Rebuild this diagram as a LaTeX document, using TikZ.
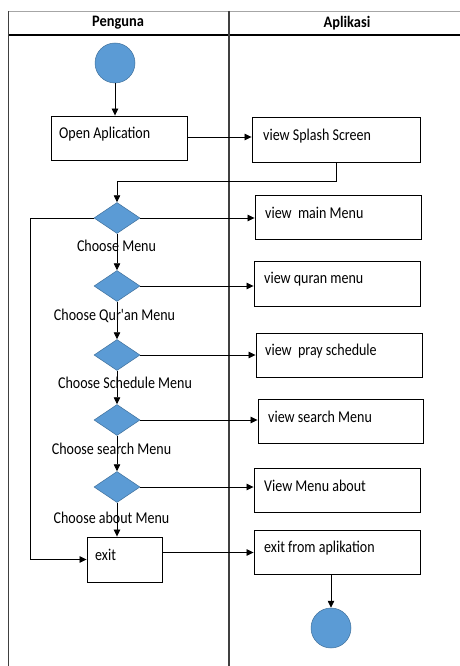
\documentclass[tikz,border=0pt]{standalone}
\usepackage{fontspec}
\setmainfont{Carlito}
\newfontfamily\narrowfont[FakeStretch=0.85]{Carlito}
\newfontfamily\headfont[FakeStretch=0.9]{Carlito}
\usetikzlibrary{shapes.geometric,arrows.meta}
\definecolor{ofblue}{HTML}{5B9BD5}
\definecolor{ofedge}{HTML}{41719C}
\definecolor{lanegray}{HTML}{404040}
\tikzset{
  act/.style={draw=black, line width=0.9pt, fill=white, inner sep=0pt},
  dec/.style={diamond, draw=ofedge, line width=0.5pt, fill=ofblue, inner sep=0pt,
              minimum width=46pt, minimum height=31pt},
  endpt/.style={circle, draw=ofedge, line width=0.5pt, fill=ofblue, inner sep=0pt,
              minimum size=40pt},
  txt/.style={anchor=west, inner sep=0pt, font=\narrowfont\fontsize{16.5}{18}\selectfont},
  lbl/.style={inner sep=0pt, font=\narrowfont\fontsize{16.5}{18}\selectfont},
  head/.style={inner sep=0pt, font=\headfont\fontsize{16}{18}\selectfont\bfseries},
  flow/.style={line width=0.8pt, -{Triangle[length=7pt,width=6.5pt]}},
}
\begin{document}
\begin{tikzpicture}[x=1pt, y=-1pt]
\useasboundingbox (0,0) rectangle (460,666);

% swimlane frame
\draw[gray!70, line width=0.6pt] (8,11) -- (460,11);
\draw[black, line width=2pt] (8,35) -- (460,35);
\draw[lanegray, line width=1pt] (8,11) -- (8,666);
\draw[lanegray, line width=1.5pt] (229,11) -- (229,666);
\node[head] (hUser) at (118,23) {Penguna};
\node[head] (hApp) at (347,23) {Aplikasi};

% start and end
\node[endpt] (start) at (115,63) {};
\node[endpt] (stop) at (331,628) {};

% user lane activities
\node[act, minimum width=136pt, minimum height=44pt] (open) at (119,138) {};
\node[txt] (tOpen) at (59,134) {Open Aplication};
\node[act, minimum width=75pt, minimum height=45pt] (exit) at (124.5,559.5) {};
\node[txt] (tExit) at (95,555) {exit};

% decisions
\node[dec] (d1) at (117,218) {};
\node[dec] (d2) at (117,286) {};
\node[dec] (d3) at (117,355) {};
\node[dec] (d4) at (117,420) {};
\node[dec] (d5) at (117,487) {};

% application lane activities
\node[act, minimum width=168pt, minimum height=45pt] (splash) at (336,139.5) {};
\node[txt] (tSplash) at (263,136) {view Splash Screen};
\node[act, minimum width=166pt, minimum height=44pt] (main) at (338,217) {};
\node[txt] (tMain) at (265,213) {view\ \ main Menu};
\node[act, minimum width=166pt, minimum height=45pt] (quran) at (337,283.5) {};
\node[txt] (tQuran) at (264,279) {view quran menu};
\node[act, minimum width=166pt, minimum height=44pt] (pray) at (339,355) {};
\node[txt] (tPray) at (265,351) {view\ \ pray schedule};
\node[act, minimum width=165pt, minimum height=44pt] (search) at (340.5,421) {};
\node[txt] (tSearch) at (268,417) {view search Menu};
\node[act, minimum width=166pt, minimum height=44pt] (about) at (337,490) {};
\node[txt] (tAbout) at (264,486) {View Menu about};
\node[act, minimum width=166pt, minimum height=44pt] (exitapp) at (337,552) {};
\node[txt] (tExitApp) at (264,548) {exit from aplikation};

% decision captions
\node[lbl] (l1) at (116.5,246) {Choose Menu};
\node[lbl] (l2) at (114.5,316) {Choose Qur'an Menu};
\node[lbl] (l3) at (125,383) {Choose Schedule Menu};
\node[lbl] (l4) at (111.5,449) {Choose search Menu};
\node[lbl] (l5) at (111.5,518) {Choose about Menu};

% control flow
\draw[flow] (start.south) -- (start.south |- open.north);
\draw[flow] ([yshift=1pt]open.east) -- ([yshift=1pt]open.east -| splash.west);
\draw[flow] (splash.south) -- ++(0,19) -| (d1.north);
\draw[flow] (d1.south) -- (d2.north);
\draw[flow] (d2.south) -- (d3.north);
\draw[flow] (d3.south) -- (d4.north);
\draw[flow] (d4.south) -- (d5.north);
\draw[flow] (d5.south) -- (d5.south |- exit.north);
\draw[flow] (d1.east) -- (d1.east -| main.west);
\draw[flow] (d2.east) -- (d2.east -| quran.west);
\draw[flow] (d3.east) -- (d3.east -| pray.west);
\draw[flow] (d4.east) -- (d4.east -| search.west);
\draw[flow] (d5.east) -- (d5.east -| about.west);
\draw[flow] (d1.west) -- ++(-63,0) |- (exit.west);
\draw[flow] ([yshift=7pt]exit.east) -- ([yshift=7pt]exit.east -| exitapp.west);
\draw[flow] (stop.north |- exitapp.south) -- (stop.north);
\end{tikzpicture}
\end{document}
